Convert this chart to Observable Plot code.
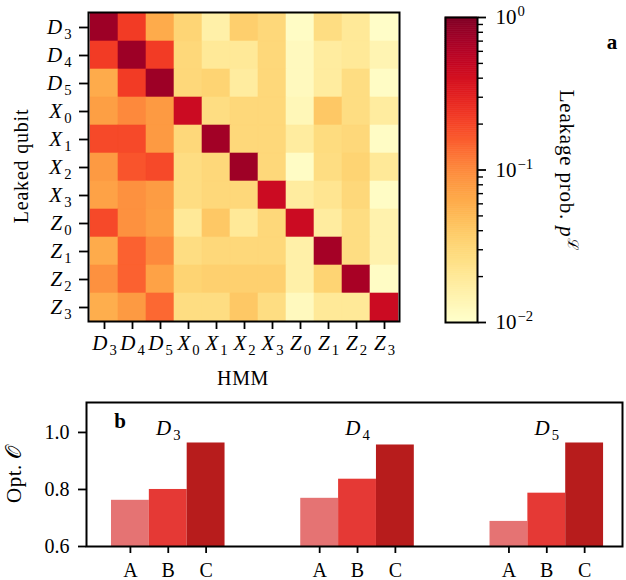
<!DOCTYPE html>
<html><head><meta charset="utf-8">
<script src="https://cdn.jsdelivr.net/npm/d3@7"></script>
<script src="https://cdn.jsdelivr.net/npm/@observablehq/plot@0.6"></script>
<style>
body{margin:0;background:#fff}
#root{position:relative;width:626px;height:580px;overflow:hidden;background:#fff}
#root svg{position:absolute;overflow:visible}
</style></head><body><div id="root"></div>
<script>
// ---------- data ----------
const qubits = ["D3","D4","D5","X0","X1","X2","X3","Z0","Z1","Z2","Z3"];
// rows: leaked qubit, columns: HMM
const leakProb = [
  [0.76, 0.22, 0.063,0.032,0.016,0.036,0.030,0.011,0.027,0.020,0.0105],
  [0.22, 0.76, 0.22, 0.030,0.020,0.020,0.030,0.012,0.018,0.020,0.014],
  [0.063,0.22, 0.76, 0.030,0.033,0.018,0.030,0.012,0.018,0.027,0.011],
  [0.075,0.10, 0.08, 0.45, 0.027,0.030,0.030,0.013,0.040,0.027,0.018],
  [0.19, 0.19, 0.08, 0.030,0.72, 0.030,0.030,0.018,0.028,0.030,0.011],
  [0.08, 0.17, 0.19, 0.027,0.030,0.75, 0.030,0.011,0.027,0.033,0.020],
  [0.072,0.09, 0.078,0.027,0.030,0.030,0.45, 0.018,0.022,0.030,0.011],
  [0.19, 0.09, 0.075,0.020,0.040,0.020,0.030,0.45, 0.018,0.027,0.015],
  [0.063,0.15, 0.10, 0.027,0.030,0.030,0.030,0.016,0.70, 0.027,0.015],
  [0.09, 0.15, 0.072,0.033,0.035,0.035,0.035,0.016,0.033,0.68, 0.011],
  [0.06, 0.08, 0.14, 0.027,0.027,0.040,0.027,0.012,0.020,0.020,0.45]
];
const cbTicks = [0.01, 0.1, 1];
const cbMinor = [0.02,0.03,0.04,0.05,0.06,0.07,0.08,0.09,0.2,0.3,0.4,0.5,0.6,0.7,0.8,0.9];

const groups = ["D3","D4","D5"];
const methods = ["A","B","C"];
const optD3 = [0.762, 0.800, 0.963];
const optD4 = [0.769, 0.836, 0.956];
const optD5 = [0.688, 0.787, 0.963];
const optTicks = [0.6, 0.8, 1.0];
const barColors = ["#e57373", "#e53935", "#b71c1c"];

// ---------- helpers ----------
const FONT = "'Liberation Serif', 'DejaVu Serif', serif";
const colorOpts = {type: "log", domain: [0.01, 1], scheme: "YlOrRd"};
function baseStyle(size) {
  return {fontFamily: FONT, fontSize: size + "px", color: "black", background: "transparent", overflow: "visible"};
}
function mathify(svg) {
  d3.select(svg).selectAll("text").each(function () {
    const t = this.textContent;
    let m = /^([A-Z])(\d)$/.exec(t);
    if (m) {
      const el = d3.select(this); el.text(null);
      el.append("tspan").attr("font-style", "italic").text(m[1]);
      el.append("tspan").attr("font-size", "0.7em").attr("dx", "2").attr("dy", "0.3em").text(m[2]);
      return;
    }
    m = /^10\^(.+)$/.exec(t);
    if (m) {
      const el = d3.select(this); el.text(null);
      el.append("tspan").text("10");
      el.append("tspan").attr("font-size", "0.7em").attr("dx", "1").attr("dy", "-0.55em").text(m[1]);
    }
  });
}
function place(svg, left, top) {
  svg.style.left = left + "px"; svg.style.top = top + "px";
  document.getElementById("root").appendChild(svg);
}

// ---------- heatmap ----------
const cells = leakProb.flatMap((row, i) => row.map((v, j) => ({leaked: qubits[i], hmm: qubits[j], p: v})));
const heat = Plot.plot({
  width: 410, height: 390,
  marginLeft: 88, marginRight: 11, marginTop: 12, marginBottom: 69,
  style: baseStyle(21),
  x: {domain: qubits, padding: 0, axis: null},
  y: {domain: qubits, padding: 0, axis: null},
  color: colorOpts,
  marks: [
    Plot.cell(cells, {x: "hmm", y: "leaked", fill: "p", stroke: "p", strokeWidth: 0.6, inset: 0}),
    Plot.frame({stroke: "black", strokeWidth: 2}),
    Plot.axisX({anchor: "bottom", tickSize: 8, tickPadding: 6, strokeWidth: 1.8, label: null}),
    Plot.axisY({anchor: "left", tickSize: 9, tickPadding: 8, strokeWidth: 1.8, label: null})
  ]
});
mathify(heat);
{
  const s = d3.select(heat);
  s.append("text").attr("x", 243).attr("y", 385).attr("text-anchor", "middle")
    .attr("font-size", 20).attr("letter-spacing", "0.6").text("HMM");
  s.append("text").attr("transform", "translate(28,166) rotate(-90)").attr("text-anchor", "middle")
    .attr("font-size", 20).attr("letter-spacing", "0.8").text("Leaked qubit");
}
place(heat, 0, 0);

// ---------- colorbar ----------
const N = 150;
const cbBands = d3.range(N).map(i => ({a: 10 ** (-2 + 2 * i / N), b: 10 ** (-2 + 2 * (i + 1) / N)}));
const cbar = Plot.plot({
  width: 226, height: 340,
  marginLeft: 45, marginRight: 149, marginTop: 17, marginBottom: 18,
  style: baseStyle(21),
  x: {domain: [0, 1], axis: null},
  y: {type: "log", domain: [0.01, 1], axis: null},
  color: colorOpts,
  marks: [
    Plot.rect(cbBands, {x1: () => 0, x2: () => 1, y1: "a", y2: "b", fill: d => Math.sqrt(d.a * d.b), stroke: d => Math.sqrt(d.a * d.b), strokeWidth: 0.6}),
    Plot.frame({stroke: "black", strokeWidth: 2}),
    Plot.axisY(cbMinor, {anchor: "right", tickSize: 5, strokeWidth: 1.4, tickFormat: () => "", label: null}),
    Plot.axisY(cbTicks, {anchor: "right", tickSize: 8, tickPadding: 10, strokeWidth: 1.8, label: null,
      tickFormat: d => "10^" + String(Math.round(Math.log10(d))).replace("-", "\u2212")})
  ]
});
mathify(cbar);
{
  const s = d3.select(cbar);
  s.selectAll("g[aria-label='y-axis tick label'] text").attr("text-anchor", "start");
  const t = s.append("text").attr("transform", "translate(160,170) rotate(90)").attr("text-anchor", "middle")
    .attr("font-size", 21).attr("letter-spacing", "0.8");
  t.append("tspan").text("Leakage prob. ");
  t.append("tspan").attr("font-style", "italic").text("p");
  t.append("tspan").attr("font-size", "0.7em").attr("dy", "-0.55em").text("\u2112");
  s.append("text").attr("x", 212).attr("y", 49).attr("text-anchor", "middle")
    .attr("font-size", 21).attr("font-weight", "bold").text("a");
}
place(cbar, 400, 0);

// ---------- bar chart ----------
const bars = [optD3, optD4, optD5].flatMap((vals, g) =>
  vals.map((v, m) => ({group: groups[g], method: methods[m], pos: g * 5 + m, value: v})));
const barPlot = Plot.plot({
  width: 626, height: 200,
  marginLeft: 86, marginRight: 4, marginTop: 22, marginBottom: 34,
  style: baseStyle(20),
  x: {domain: [-1.16, 13.0], axis: null},
  y: {domain: [0.6, 1.105], axis: null},
  color: {domain: methods, range: barColors},
  marks: [
    Plot.rect(bars, {x1: d => d.pos - 0.5, x2: d => d.pos + 0.5, y1: () => 0.6, y2: "value", fill: "method"}),
    Plot.frame({stroke: "black", strokeWidth: 2}),
    Plot.axisX(bars.map(d => d.pos), {anchor: "bottom", tickSize: 7, tickPadding: 9, strokeWidth: 1.8,
      tickFormat: p => methods[p % 5], label: null}),
    Plot.axisY(optTicks, {anchor: "left", tickSize: 8, tickPadding: 9, strokeWidth: 1.8,
      tickFormat: d3.format(".1f"), label: null}),
    Plot.text(groups, {x: (d, i) => i * 5 + 1, y: () => 1.0, dy: 3, text: d => d, fontSize: 21, lineAnchor: "bottom"})
  ]
});
mathify(barPlot);
{
  const s = d3.select(barPlot);
  const t = s.append("text").attr("transform", "translate(21,94) rotate(-90)").attr("text-anchor", "middle")
    .attr("font-size", 21).attr("letter-spacing", "0.5");
  t.append("tspan").text("Opt. ");
  t.append("tspan").text("\u{1D4AA}");
  s.append("text").attr("x", 120).attr("y", 48).attr("text-anchor", "middle")
    .attr("font-size", 21).attr("font-weight", "bold").text("b");
}
place(barPlot, 0, 380);
</script></body></html>
